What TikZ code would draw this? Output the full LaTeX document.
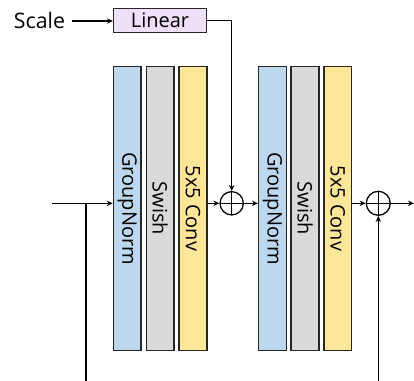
\documentclass[tikz,border=0pt]{standalone}
\usepackage{fontspec}
\setmainfont{Open Sans}
\usetikzlibrary{arrows.meta}
\definecolor{gnblue}{HTML}{BDD7EE}
\definecolor{swgray}{HTML}{D9D9D9}
\definecolor{cvyellow}{HTML}{FFE699}
\definecolor{linpurple}{HTML}{EEE0F8}
\definecolor{edge}{HTML}{262626}
\begin{document}
\begin{tikzpicture}[x=0.75pt,y=-0.75pt,
  txt/.style={font=\fontsize{15}{17}\selectfont},
  blk/.style={draw=edge, line width=1.1pt, inner sep=0pt, minimum width=20.7pt, minimum height=212.6pt, txt},
  linbox/.style={draw=edge, line width=1.1pt, inner sep=0pt, fill=linpurple, minimum width=69.5pt, minimum height=18pt, txt},
  oplus/.style={circle, draw=black, line width=0.95pt, inner sep=0pt, minimum size=17.5pt,
    path picture={\draw[line width=0.95pt] (path picture bounding box.north) -- (path picture bounding box.south)
      (path picture bounding box.west) -- (path picture bounding box.east);}},
  conn/.style={draw=black, line width=0.95pt},
  arr/.style={conn, -{Stealth[length=4.5pt,width=4pt]}}
]
\useasboundingbox (0,0) rectangle (414,381);

\node[txt, font=\fontsize{16}{18}\selectfont] (scale) at (39.5,21) {Scale};
\node[linbox] (lin) at (160,20.5) {Linear};

\node[blk, fill=gnblue]   (g1) at (127.2,208.5) {\rotatebox{-90}{GroupNorm}};
\node[blk, fill=swgray]   (s1) at (160.2,208.5) {\rotatebox{-90}{Swish}};
\node[blk, fill=cvyellow] (c1) at (193,208.5)   {\rotatebox{-90}{5x5 Conv}};
\node[oplus] (o1) at (231.7,203.3) {};

\node[blk, fill=gnblue]   (g2) at (272.5,208.5) {\rotatebox{-90}{GroupNorm}};
\node[blk, fill=swgray]   (s2) at (305,208.5)   {\rotatebox{-90}{Swish}};
\node[blk, fill=cvyellow] (c2) at (337.7,208.5) {\rotatebox{-90}{5x5 Conv}};
\node[oplus, minimum size=18pt] (o2) at (378.3,203.3) {};

\coordinate (in) at (52,203.3);
\coordinate (br) at (86,203.3);
\coordinate (bl) at (86,381.4);
\coordinate (out) at (414,203.3);

\draw[arr] (scale.east) ++(2,0) coordinate (sc) -- (sc -| lin.west);
\draw[arr] (lin.east) -| (o1.north);
\draw[arr] (in) -- (in -| g1.west);
\draw[arr] (in -| c1.east) -- (o1.west);
\draw[arr] (o1.east) -- (o1 -| g2.west);
\draw[arr] (o2 -| c2.east) -- (o2.west);
\draw[arr] (o2.east) -- (out);
\draw[arr] (br) -- (bl) -| (o2.south);
\end{tikzpicture}
\end{document}
